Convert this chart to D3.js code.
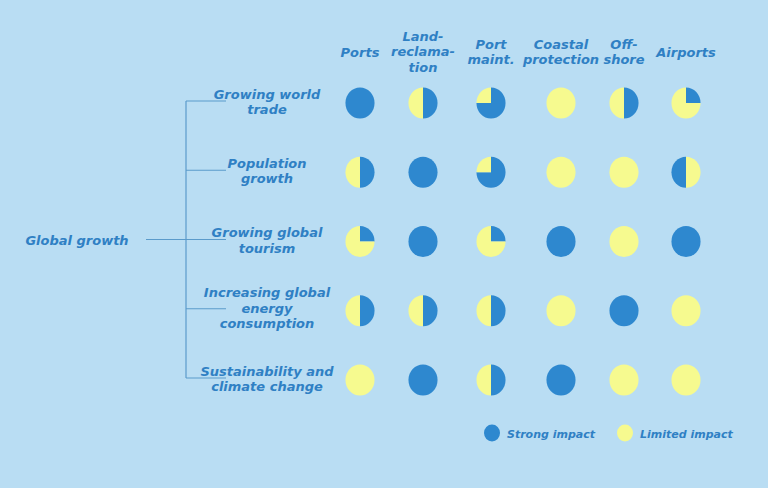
<html>
<head>
    <script src="https://d3js.org/d3.v7.min.js"></script>
    <style>
        body { margin: 0; background: #b9ddf3; }
        text { font-family: "DejaVu Sans", Verdana, sans-serif; font-weight: bold; font-style: italic; fill: #2f80c4; font-size: 13px; }
    </style>
</head>
<body>
<div id="dataviz"></div>

<script>
    // columns (sectors) and rows (drivers)
    var sectors = ["Ports", "Land-reclamation", "Port maint.", "Coastal protection", "Off-shore", "Airports"]
    var sectorLabels = [["Ports"], ["Land-", "reclama-", "tion"], ["Port", "maint."], ["Coastal", "protection"], ["Off-", "shore"], ["Airports"]]
    var drivers = ["Growing world trade", "Population growth", "Growing global tourism", "Increasing global energy consumption", "Sustainability and climate change"]
    var driverLabels = [["Growing world", "trade"], ["Population", "growth"], ["Growing global", "tourism"], ["Increasing global", "energy", "consumption"], ["Sustainability and", "climate change"]]
    var rootLabel = "Global growth"

    // share of strong impact per cell (row = driver, col = sector)
    var strongShare = [
        [1, 0.5, 0.75, 0, 0.5, 0.25],
        [0.5, 1, 0.75, 0, 0, 0.5],
        [0.25, 1, 0.25, 1, 0, 1],
        [0.5, 0.5, 0.5, 0, 1, 0],
        [0, 1, 0.5, 1, 0, 0]
    ]
    // cells where the strong part is drawn after the limited part
    var limitedFirst = [[1, 5]]
    var legendItems = ["Strong impact", "Limited impact"]

    var blue = "#2e88cf", yellow = "#f6fa8f", lineColor = "#5b9bcb"

    var svg = d3.select("#dataviz")
        .append("svg")
        .attr("width", 768)
        .attr("height", 488)

    var x = d3.scaleOrdinal().domain(sectors).range([360, 423, 491, 561, 624, 686])
    var y = d3.scalePoint().domain(drivers).range([103, 380])
    var r = 15

    // column headers
    sectors.forEach(function (s, i) {
        var lines = sectorLabels[i]
        var top = 52 - (lines.length - 1) * 8
        lines.forEach(function (l, j) {
            svg.append("text")
                .attr("x", x(s))
                .attr("y", top + j * 15.5)
                .attr("dy", "0.35em")
                .attr("text-anchor", "middle")
                .text(l)
        })
    })

    // tree lines
    var yTop = y(drivers[0]) - 2, yBot = y(drivers[drivers.length - 1]) - 2
    var trunk = 186, branchEnd = 226
    svg.append("line").attr("x1", trunk).attr("x2", trunk).attr("y1", yTop).attr("y2", yBot)
        .attr("stroke", lineColor).attr("stroke-width", 1.2)
    drivers.forEach(function (d) {
        svg.append("line").attr("x1", trunk).attr("x2", branchEnd)
            .attr("y1", y(d) - 2).attr("y2", y(d) - 2)
            .attr("stroke", lineColor).attr("stroke-width", 1.2)
    })
    var midY = y(drivers[2]) - 2
    svg.append("line").attr("x1", 146).attr("x2", trunk).attr("y1", midY).attr("y2", midY)
        .attr("stroke", lineColor).attr("stroke-width", 1.2)

    svg.append("text").attr("x", 77).attr("y", midY + 1).attr("dy", "0.35em")
        .attr("text-anchor", "middle").text(rootLabel)

    // row labels
    drivers.forEach(function (d, i) {
        var lines = driverLabels[i]
        var top = y(d) - 9 - (lines.length - 2) * 7
        if (i == 3) top = y(d) - 18
        if (i == 4) top = y(d) - 9
        lines.forEach(function (l, j) {
            svg.append("text")
                .attr("x", 267)
                .attr("y", top + j * 15.5)
                .attr("dy", "0.35em")
                .attr("text-anchor", "middle")
                .text(l)
        })
    })

    // pie cells
    var arc = d3.arc().innerRadius(0).outerRadius(r)
    strongShare.forEach(function (row, i) {
        row.forEach(function (v, j) {
            var flip = limitedFirst.some(function (c) { return c[0] == i && c[1] == j })
            var parts = flip
                ? [{v: 1 - v, c: yellow}, {v: v, c: blue}]
                : [{v: v, c: blue}, {v: 1 - v, c: yellow}]
            var pie = d3.pie().sort(null).value(function (p) { return p.v })
            var g = svg.append("g")
                .attr("transform", "translate(" + x(sectors[j]) + "," + y(drivers[i]) + ") scale(0.97,1.04)")
            g.selectAll("path")
                .data(pie(parts).filter(function (p) { return p.data.v > 0 }))
                .enter()
                .append("path")
                .attr("d", arc)
                .attr("fill", function (p) { return p.data.c })
        })
    })

    // legend
    var legendX = [492, 625]
    legendItems.forEach(function (t, i) {
        svg.append("ellipse").attr("cx", legendX[i]).attr("cy", 433).attr("rx", 8).attr("ry", 8.5)
            .attr("fill", i == 0 ? blue : yellow)
        svg.append("text").attr("x", legendX[i] + 15).attr("y", 434).attr("dy", "0.35em")
            .style("font-size", "11px").text(t)
    })
</script>

</body>
</html>
